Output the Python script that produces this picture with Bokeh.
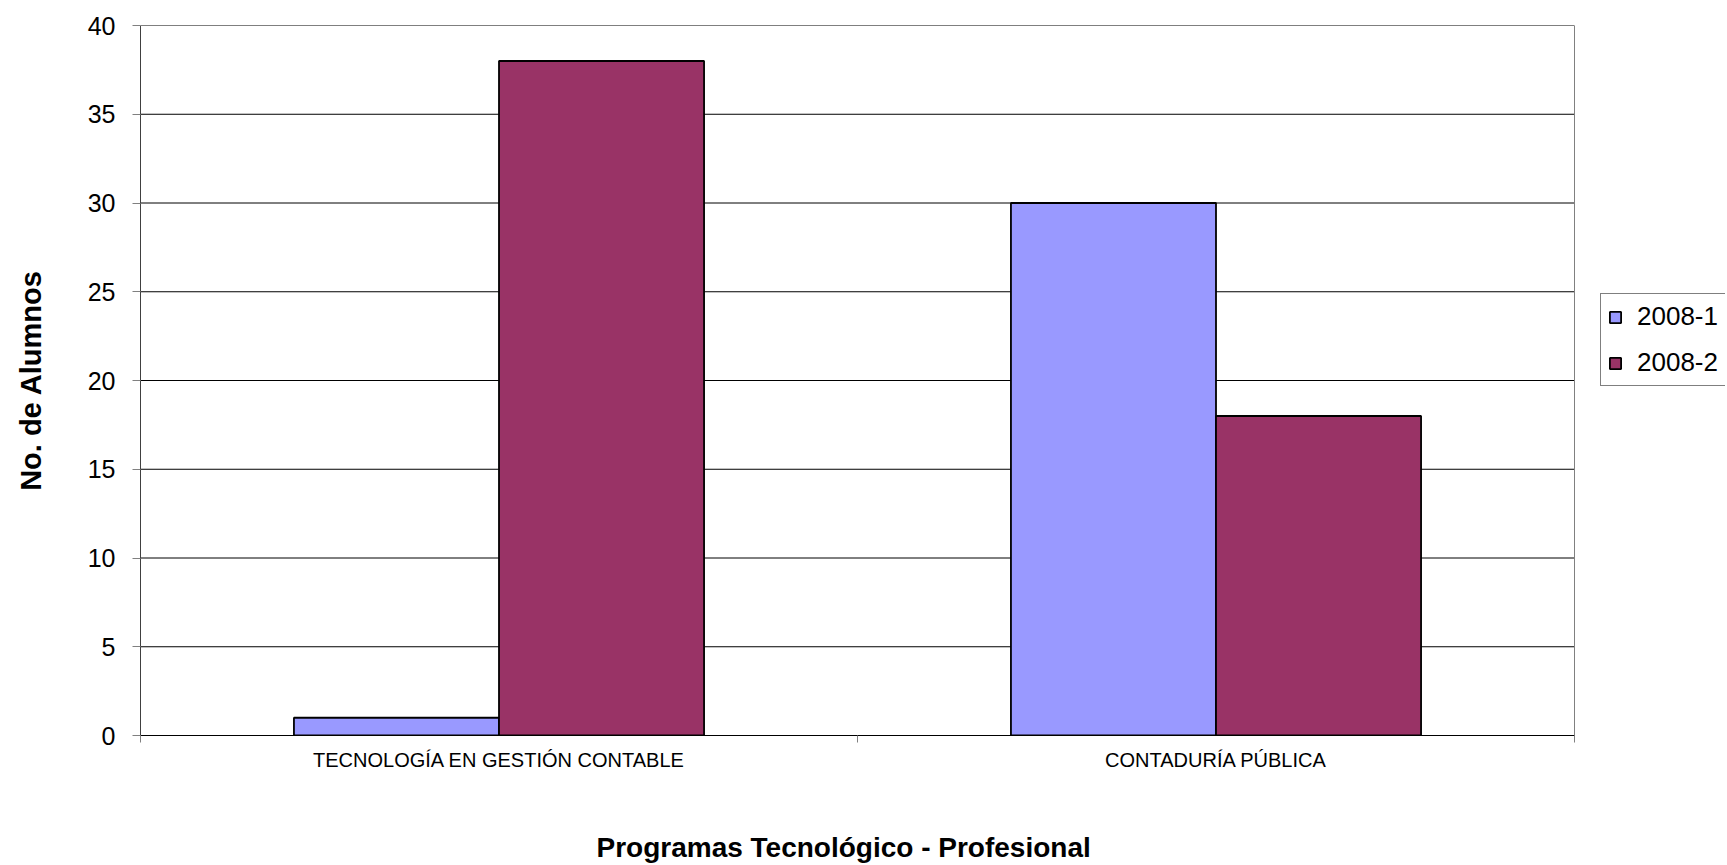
from bokeh.plotting import figure
from bokeh.models import ColumnDataSource, FixedTicker, Legend, LegendItem, Range1d, Title
from bokeh.embed import file_html
from bokeh.resources import INLINE

# ---- data ----
categories = ["TECNOLOGÍA EN GESTIÓN CONTABLE", "CONTADURÍA PÚBLICA"]
series_names = ["2008-1", "2008-2"]
values_2008_1 = [1, 30]
values_2008_2 = [38, 18]
series_colors = ["#9999FF", "#993366"]
y_ticks = [0, 5, 10, 15, 20, 25, 30, 35, 40]
x_title = "Programas Tecnológico - Profesional"
y_title = "No. de Alumnos"

FONT = "Liberation Sans"
BAR_W = 0.286

# ---- layout (pixels) ----
W, H = 1725, 865
LEFT, TOP, BOTTOM = 140, 25, 130
PLOT_W = 1434           # width of the bar area (categories span)
N = len(categories)
x_end = N * (W - LEFT) / PLOT_W   # frame extends to the right edge to host the legend

centers = [i + 0.5 for i in range(N)]

p = figure(
    width=W, height=H,
    output_backend="svg", toolbar_location=None,
    x_range=Range1d(0, x_end), y_range=Range1d(0, 40),
    min_border_left=LEFT, min_border_right=0,
    min_border_top=TOP, min_border_bottom=BOTTOM,
)
p.background_fill_color = "white"
p.border_fill_color = "white"
p.outline_line_color = None
p.xgrid.visible = False
p.ygrid.visible = False

# horizontal gridlines across the category area
grid_src = ColumnDataSource(dict(y=y_ticks, x0=[0] * len(y_ticks), x1=[N] * len(y_ticks)))
p.segment(x0="x0", x1="x1", y0="y", y1="y", source=grid_src, line_color="#000000", line_width=1)
# right border of the plot area
p.segment(x0=[N], x1=[N], y0=[y_ticks[0]], y1=[y_ticks[-1]], line_color="#808080", line_width=1)

renderers = []
for k, (name, vals, col) in enumerate(zip(series_names, [values_2008_1, values_2008_2], series_colors)):
    off = (k - 0.5) * BAR_W
    src = ColumnDataSource(dict(x=[c + off for c in centers], top=vals))
    r = p.vbar(x="x", top="top", bottom=0, width=BAR_W, source=src,
               fill_color=col, line_color="#000000", line_width=1.8)
    renderers.append(r)

# x axis
p.xaxis.bounds = (0, N)
p.xaxis.ticker = FixedTicker(ticks=centers, minor_ticks=list(range(N + 1)))
p.xaxis.major_label_overrides = {c: cat for c, cat in zip(centers, categories)}
p.xaxis.major_tick_out = 0
p.xaxis.major_tick_in = 0
p.xaxis.minor_tick_out = 7
p.xaxis.minor_tick_in = 0
p.xaxis.minor_tick_line_color = "#808080"
p.xaxis.axis_line_color = "#000000"
p.xaxis.major_label_text_font = FONT
p.xaxis.major_label_text_font_size = "20px"
p.xaxis.major_label_text_color = "#000000"
p.xaxis.major_label_standoff = 6

# x title (placed like the reference, slightly left of the bar area centre)
title_left = 596
p.add_layout(Title(text=x_title, align="left", offset=title_left - LEFT,
                   text_font=FONT, text_font_size="28px", text_font_style="bold",
                   text_color="#000000", standoff=0,
                   padding=dict(left=0, right=0, top=56, bottom=0)), "below")

# y axis
p.yaxis.ticker = FixedTicker(ticks=y_ticks, minor_ticks=[])
p.yaxis.major_tick_out = 8
p.yaxis.major_tick_in = 0
p.yaxis.major_tick_line_color = "#808080"
p.yaxis.axis_line_color = "#404040"
p.yaxis.major_label_text_font = FONT
p.yaxis.major_label_text_font_size = "25px"
p.yaxis.major_label_text_color = "#000000"
p.yaxis.major_label_standoff = 17
p.yaxis.axis_label = y_title
p.yaxis.axis_label_text_font = FONT
p.yaxis.axis_label_text_font_size = "29px"
p.yaxis.axis_label_text_font_style = "bold"
p.yaxis.axis_label_text_color = "#000000"
p.yaxis.axis_label_standoff = 38

legend = Legend(
    items=[LegendItem(label=n, renderers=[r]) for n, r in zip(series_names, renderers)],
    location=(1600 - LEFT, (H - BOTTOM) - 386),
    orientation="vertical",
    border_line_color="#000000", border_line_width=1,
    background_fill_color="white", background_fill_alpha=1,
    padding=7, margin=0, spacing=15,
    glyph_width=14, glyph_height=14, label_height=24, label_standoff=15,
    label_text_font=FONT, label_text_font_size="26px", label_text_color="#000000",
)
p.add_layout(legend, "center")

open("out.html", "w").write(file_html(p, INLINE))
